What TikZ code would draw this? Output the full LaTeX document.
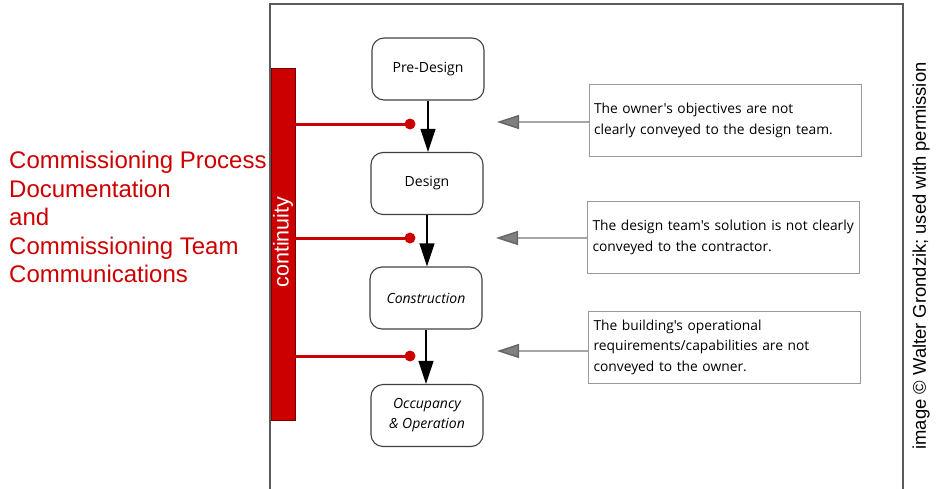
\documentclass[tikz,border=0pt]{standalone}
\usepackage{fontspec}
\setmainfont{Liberation Sans}
\newfontfamily\handfont{Open Sans}
\usetikzlibrary{arrows.meta}
\definecolor{cpred}{RGB}{204,0,0}
\definecolor{framegray}{RGB}{90,90,90}
\tikzset{
  stage/.style={draw=black!75, line width=1.1pt, rounded corners=12pt,
    minimum width=112pt, minimum height=62pt, align=center,
    font=\handfont\fontsize{14}{20}\selectfont, inner sep=0pt},
  note/.style={draw=black!40, line width=0.9pt, minimum width=272pt,
    minimum height=72pt, text width=262pt, inner xsep=5pt, align=left,
    font=\handfont\fontsize{13.8}{20.5}\selectfont},
  flow/.style={line width=1.1pt, black, -{Triangle[width=15pt,length=23pt]}},
  issue/.style={line width=1.5pt, black!35,
    -{Triangle[width=14pt,length=22pt,fill=black!50,color=black!60]}},
  link/.style={line width=3pt, cpred},
  linkdot/.style={circle, fill=cpred, minimum size=11pt, inner sep=0pt},
}
\begin{document}
\begin{tikzpicture}[x=1pt,y=-1pt]
\useasboundingbox (0,0) rectangle (938,488);
% frame
\draw[framegray, line width=1.2pt] (270,500) -- (270,4) -- (903,4) -- (903,500);
% continuity bar
\node[draw=cpred!60!black, fill=cpred, line width=0.8pt, minimum width=24pt,
  minimum height=352pt, inner sep=0pt] (bar) at (283,244) {};
\node[rotate=90, white, font=\fontsize{21.5}{24}\selectfont] (cont) at (283,242) {continuity};
% left text
\node[cpred, align=left, anchor=west, inner sep=0pt,
  font=\fontsize{24}{28.5}\selectfont] (cp) at (9,217)
  {Commissioning Process\\Documentation\\and\\Commissioning Team\\Communications};
% stages
\node[stage] (pre) at (428,69) {Pre-Design};
\node[stage] (des) at (427,183.5) {Design};
\node[stage] (con) at (426,298) {\itshape Construction};
\node[stage] (occ) at (427,415.5) {\itshape Occupancy\\\itshape \& Operation};
\draw[flow] (pre.south) -- (pre.south |- des.north);
\draw[flow] (des.south) -- (des.south |- con.north);
\draw[flow] (con.south) -- (con.south |- occ.north);
% dots
\node[linkdot] (d1) at (410,124) {};
\node[linkdot] (d2) at (410,238) {};
\node[linkdot] (d3) at (410,356) {};
\draw[link] (bar.east |- d1) -- (d1.center);
\draw[link] (bar.east |- d2) -- (d2.center);
\draw[link] (bar.east |- d3) -- (d3.center);
% notes
\node[note] (n1) at (725,120.5) {The owner's objectives are not\\clearly conveyed to the design team.};
\node[note] (n2) at (723.5,237.5) {The design team's solution is not clearly\\conveyed to the contractor.};
\node[note] (n3) at (724.5,347) {The building's operational\\requirements/capabilities are not\\conveyed to the owner.};
\coordinate (t1) at (497,122);
\coordinate (t2) at (496,238);
\coordinate (t3) at (497,351);
\draw[issue] (n1.west |- t1) -- (t1);
\draw[issue] (n2.west |- t2) -- (t2);
\draw[issue] (n3.west |- t3) -- (t3);
% credit
\node[rotate=90, font=\fontsize{18.4}{20}\selectfont] (credit) at (921,256)
  {image \textcopyright{} Walter Grondzik; used with permission};
\end{tikzpicture}
\end{document}
